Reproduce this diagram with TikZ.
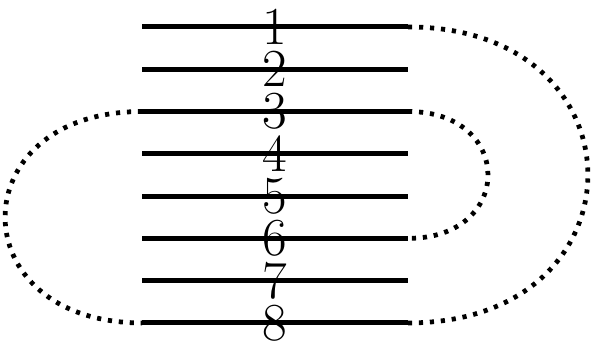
\documentclass[tikz,border=0pt]{standalone}
\usepackage{fontspec}
\usepackage{tikz}

\begin{document}
\begin{tikzpicture}
            \useasboundingbox (0,0) rectangle (14,8.087);
            \foreach \i in {1,...,8} {
                \coordinate (l\i) at (3.36,8.45-\i);
                \coordinate (r\i) at (9.65,8.45-\i);
                \draw[line width=3.4pt] (l\i) -- (r\i);
                \node (n\i) at (6.5,8.45-\i) {\fontsize{36}{40}\selectfont \i};
            }
            \draw[line width=3.2pt, dash pattern=on 2.8pt off 4.6pt] (r1) .. controls +(5.67,0) and +(5.67,0) .. (r8);
            \draw[line width=3.2pt, dash pattern=on 2.8pt off 4.6pt] (r3) .. controls +(2.52,0) and +(2.52,0) .. (r6);
            \draw[line width=3.2pt, dash pattern=on 2.8pt off 4.6pt] (l3) .. controls +(-4.32,0) and +(-4.32,0) .. (l8);
        \end{tikzpicture}
\end{document}
